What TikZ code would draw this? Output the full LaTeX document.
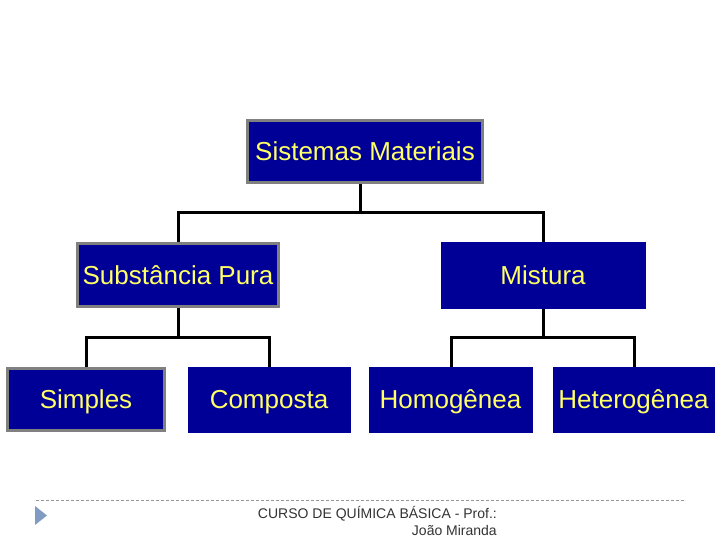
\documentclass[tikz,border=0pt]{standalone}
\usepackage{fontspec}
\setmainfont{Liberation Sans}
\definecolor{boxblue}{RGB}{0,0,150}
\definecolor{txtyellow}{RGB}{255,255,102}
\definecolor{bordergray}{RGB}{128,128,128}
\definecolor{footgray}{RGB}{150,150,150}
\definecolor{arrowblue}{RGB}{130,155,195}
\begin{document}
\begin{tikzpicture}[x=1pt,y=-1pt,
  box/.style={rectangle, fill=boxblue, draw=boxblue, line width=1pt, text=txtyellow,
    font=\fontsize{26}{28}\selectfont, inner sep=0pt, anchor=center,
    text height=18.6pt, text depth=0pt},
  graybox/.style={box, draw=bordergray, line width=3pt},
  conn/.style={draw=black, line width=3pt}]
\useasboundingbox (0,0) rectangle (720,540);
\fill[white] (0,0) rectangle (720,540);

\node[graybox, minimum width=235pt, minimum height=62pt] (sm) at (365,151.5) {Sistemas Materiais};
\node[graybox, minimum width=201pt, minimum height=63pt] (sp) at (178,275) {Substância Pura};
\node[box, minimum width=204pt, minimum height=66pt] (mi) at (543,275) {Mistura};
\node[graybox, minimum width=157pt, minimum height=62pt] (si) at (86,399.5) {Simples};
\node[box, minimum width=162pt, minimum height=65pt] (co) at (269,399.5) {Composta};
\node[box, minimum width=163pt, minimum height=65pt] (ho) at (450.5,399.5) {Homogênea};
\node[box, minimum width=161pt, minimum height=65pt] (he) at (633.5,399.5) {Heterogênea};

\coordinate (j1) at (360,213);
\coordinate (j2) at (178,337);
\coordinate (j3) at (543,337);
\draw[conn] (sm.south -| j1) -- (j1);
\draw[conn] (sp.north) |- (j1) -| (mi.north);
\draw[conn] (sp.south) -- (j2);
\draw[conn] (si.north -| 86,0) |- (j2) -| (co.north -| 269,0);
\draw[conn] (mi.south) -- (j3);
\draw[conn] (ho.north -| 451,0) |- (j3) -| (he.north -| 634,0);

% footer
\coordinate (dl) at (36,500);
\coordinate (dr) at (685,500);
\draw[footgray, line width=0.8pt, dash pattern=on 3pt off 2pt] (dl) -- (dr);
\fill[arrowblue] (35,506) -- (47,515.5) -- (35,525) -- cycle;
\node[anchor=north east, align=right, inner sep=0pt, text=black!80,
  font=\fontsize{14}{17}\selectfont] (ft) at (497,506)
  {CURSO DE QUÍMICA BÁSICA - Prof.:\\João Miranda};
\end{tikzpicture}
\end{document}
